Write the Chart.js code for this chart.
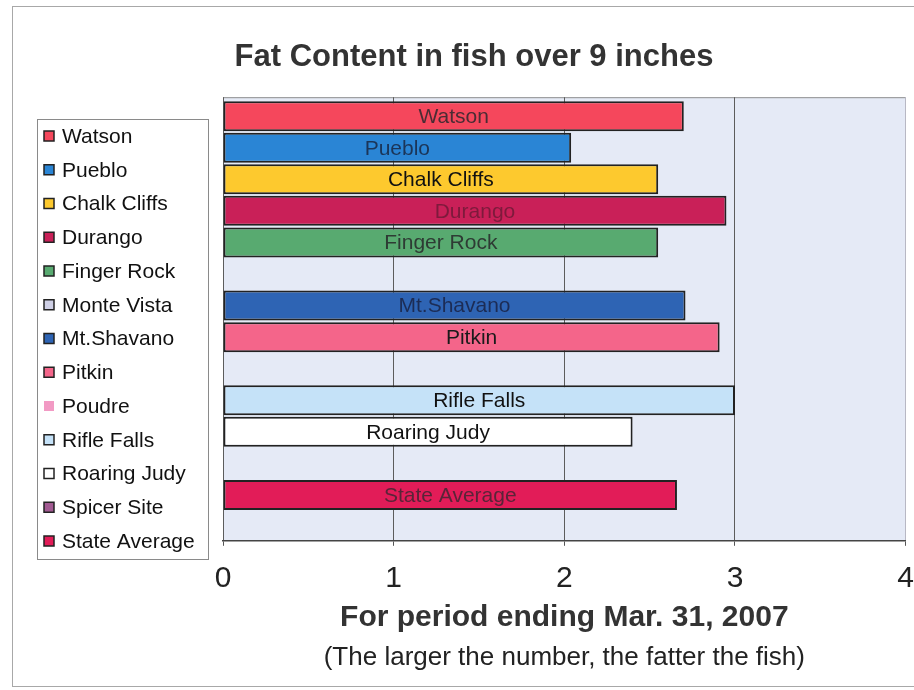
<!DOCTYPE html>
<html>
<head>
<meta charset="utf-8">
<title>Fat Content in fish over 9 inches</title>
<script src="https://cdn.jsdelivr.net/npm/chart.js@4.4.1/dist/chart.umd.min.js"></script>
<style>
  html, body { margin: 0; padding: 0; background: #fff; }
  canvas { display: block; }
</style>
</head>
<body>
<canvas id="fishChart" width="914" height="690"></canvas>
<script>
// values
const sites = ['Watson', 'Pueblo', 'Chalk Cliffs', 'Durango', 'Finger Rock', 'Monte Vista', 'Mt.Shavano',
  'Pitkin', 'Poudre', 'Rifle Falls', 'Roaring Judy', 'Spicer Site', 'State Average'];
const fatContent = [2.70, 2.04, 2.55, 2.95, 2.55, null, 2.71, 2.91, null, 3.00, 2.40, null, 2.66];
const xTicks = [0, 1, 2, 3, 4];

// colours
const barColors = ['#f5475c', '#2a85d5', '#fdc92e', '#c92058', '#58aa70', '#cfd0e6', '#2e64b4',
  '#f4658a', '#f29ac4', '#c5e2f8', '#ffffff', '#a25a92', '#e21c58'];
const labelColors = ['#4b2c34', '#1b3558', '#111111', '#7e1a3c', '#2e3b34', '#333333', '#1c2c55',
  '#1a1a1a', '#333333', '#111111', '#111111', '#333333', '#5a2438'];

const FONT = '"Liberation Sans", Arial, sans-serif';
Chart.defaults.font.family = FONT;

// page background, outer frame and the plot area fill
const plotBackground = {
  id: 'plotBackground',
  beforeDraw(chart) {
    const { ctx, chartArea: a } = chart;
    ctx.save();
    ctx.fillStyle = '#ffffff';
    ctx.fillRect(0, 0, chart.width, chart.height);
    ctx.strokeStyle = '#a8a8a8';
    ctx.lineWidth = 1;
    ctx.strokeRect(12.5, 6.5, 1000, 680);
    ctx.fillStyle = '#e5eaf6';
    ctx.fillRect(a.left, a.top, a.right - a.left, a.bottom - a.top);
    ctx.strokeStyle = '#8e8e8e';
    ctx.beginPath();
    ctx.moveTo(a.left, a.top + 0.5);
    ctx.lineTo(a.right, a.top + 0.5);
    ctx.stroke();
    ctx.restore();
  }
};

// site name written in the middle of each bar
const barLabels = {
  id: 'barLabels',
  afterDatasetsDraw(chart) {
    const ctx = chart.ctx;
    const meta = chart.getDatasetMeta(0);
    ctx.save();
    ctx.font = '21px ' + FONT;
    ctx.textAlign = 'center';
    ctx.textBaseline = 'middle';
    meta.data.forEach((bar, i) => {
      if (fatContent[i] == null) return;
      ctx.fillStyle = labelColors[i];
      ctx.fillText(sites[i], (bar.base + bar.x) / 2, bar.y + 1);
    });
    ctx.restore();
  }
};

// boxed legend on the left, one entry per site
const siteLegend = {
  id: 'siteLegend',
  afterDraw(chart) {
    const ctx = chart.ctx;
    ctx.save();
    ctx.strokeStyle = '#8a8a8a';
    ctx.lineWidth = 1;
    ctx.strokeRect(37.5, 119.5, 171, 440);
    ctx.font = '21px ' + FONT;
    ctx.textBaseline = 'middle';
    sites.forEach((name, i) => {
      const y = 136 + i * 33.75;
      ctx.fillStyle = barColors[i];
      ctx.fillRect(44, y - 5, 10, 10);
      if (name !== 'Poudre') {
        ctx.strokeStyle = '#222';
        ctx.lineWidth = 1.5;
        ctx.strokeRect(44, y - 5, 10, 10);
      }
      ctx.fillStyle = '#111';
      ctx.fillText(name, 62, y + 1);
    });
    ctx.restore();
  }
};

new Chart(document.getElementById('fishChart'), {
  type: 'bar',
  data: {
    datasets: [{
      label: 'Fat content',
      data: sites.map((s, i) => ({ x: fatContent[i], y: i })),
      backgroundColor: barColors,
      borderColor: '#222222',
      borderWidth: 2,
      borderSkipped: false,
      inflateAmount: 0,
      barThickness: 30
    }]
  },
  options: {
    indexAxis: 'y',
    responsive: false,
    animation: false,
    layout: { padding: { top: 0, left: 34, right: 0, bottom: 0 } },
    scales: {
      x: {
        type: 'linear',
        min: 0,
        max: 4,
        afterBuildTicks: (s) => { s.ticks = xTicks.map(v => ({ value: v })); },
        grid: {
          color: (c) => c.tick && c.tick.value === 4 ? '#b8b8c4' : '#5c5c5c',
          lineWidth: 1,
          tickLength: 5,
          tickColor: '#555'
        },
        border: { color: '#444', width: 1.5 },
        ticks: {
          padding: 0,
          color: '#222',
          font: { size: 30, lineHeight: 2.2 }
        },
        title: {
          display: true,
          text: 'For period ending Mar. 31, 2007',
          color: '#333',
          font: { size: 30, weight: 'bold', lineHeight: 0.4 },
          padding: { top: 0, bottom: 0 }
        }
      },
      y: {
        type: 'linear',
        reverse: true,
        offset: false,
        min: -0.6,
        max: 13.45,
        afterFit: (s) => { s.width = 189; },
        ticks: { display: false },
        grid: { display: false },
        border: { display: false }
      }
    },
    plugins: {
      legend: { display: false },
      tooltip: { enabled: false },
      title: {
        display: true,
        text: 'Fat Content in fish over 9 inches',
        color: '#333',
        font: { size: 31, weight: 'bold', lineHeight: 1.2 },
        padding: { top: 39, bottom: 21 }
      },
      subtitle: {
        display: true,
        position: 'bottom',
        fullSize: false,
        text: '(The larger the number, the fatter the fish)',
        color: '#222',
        font: { size: 26, lineHeight: 1.2 },
        padding: { top: 18, bottom: 17 }
      }
    }
  },
  plugins: [plotBackground, barLabels, siteLegend]
});
</script>
</body>
</html>
